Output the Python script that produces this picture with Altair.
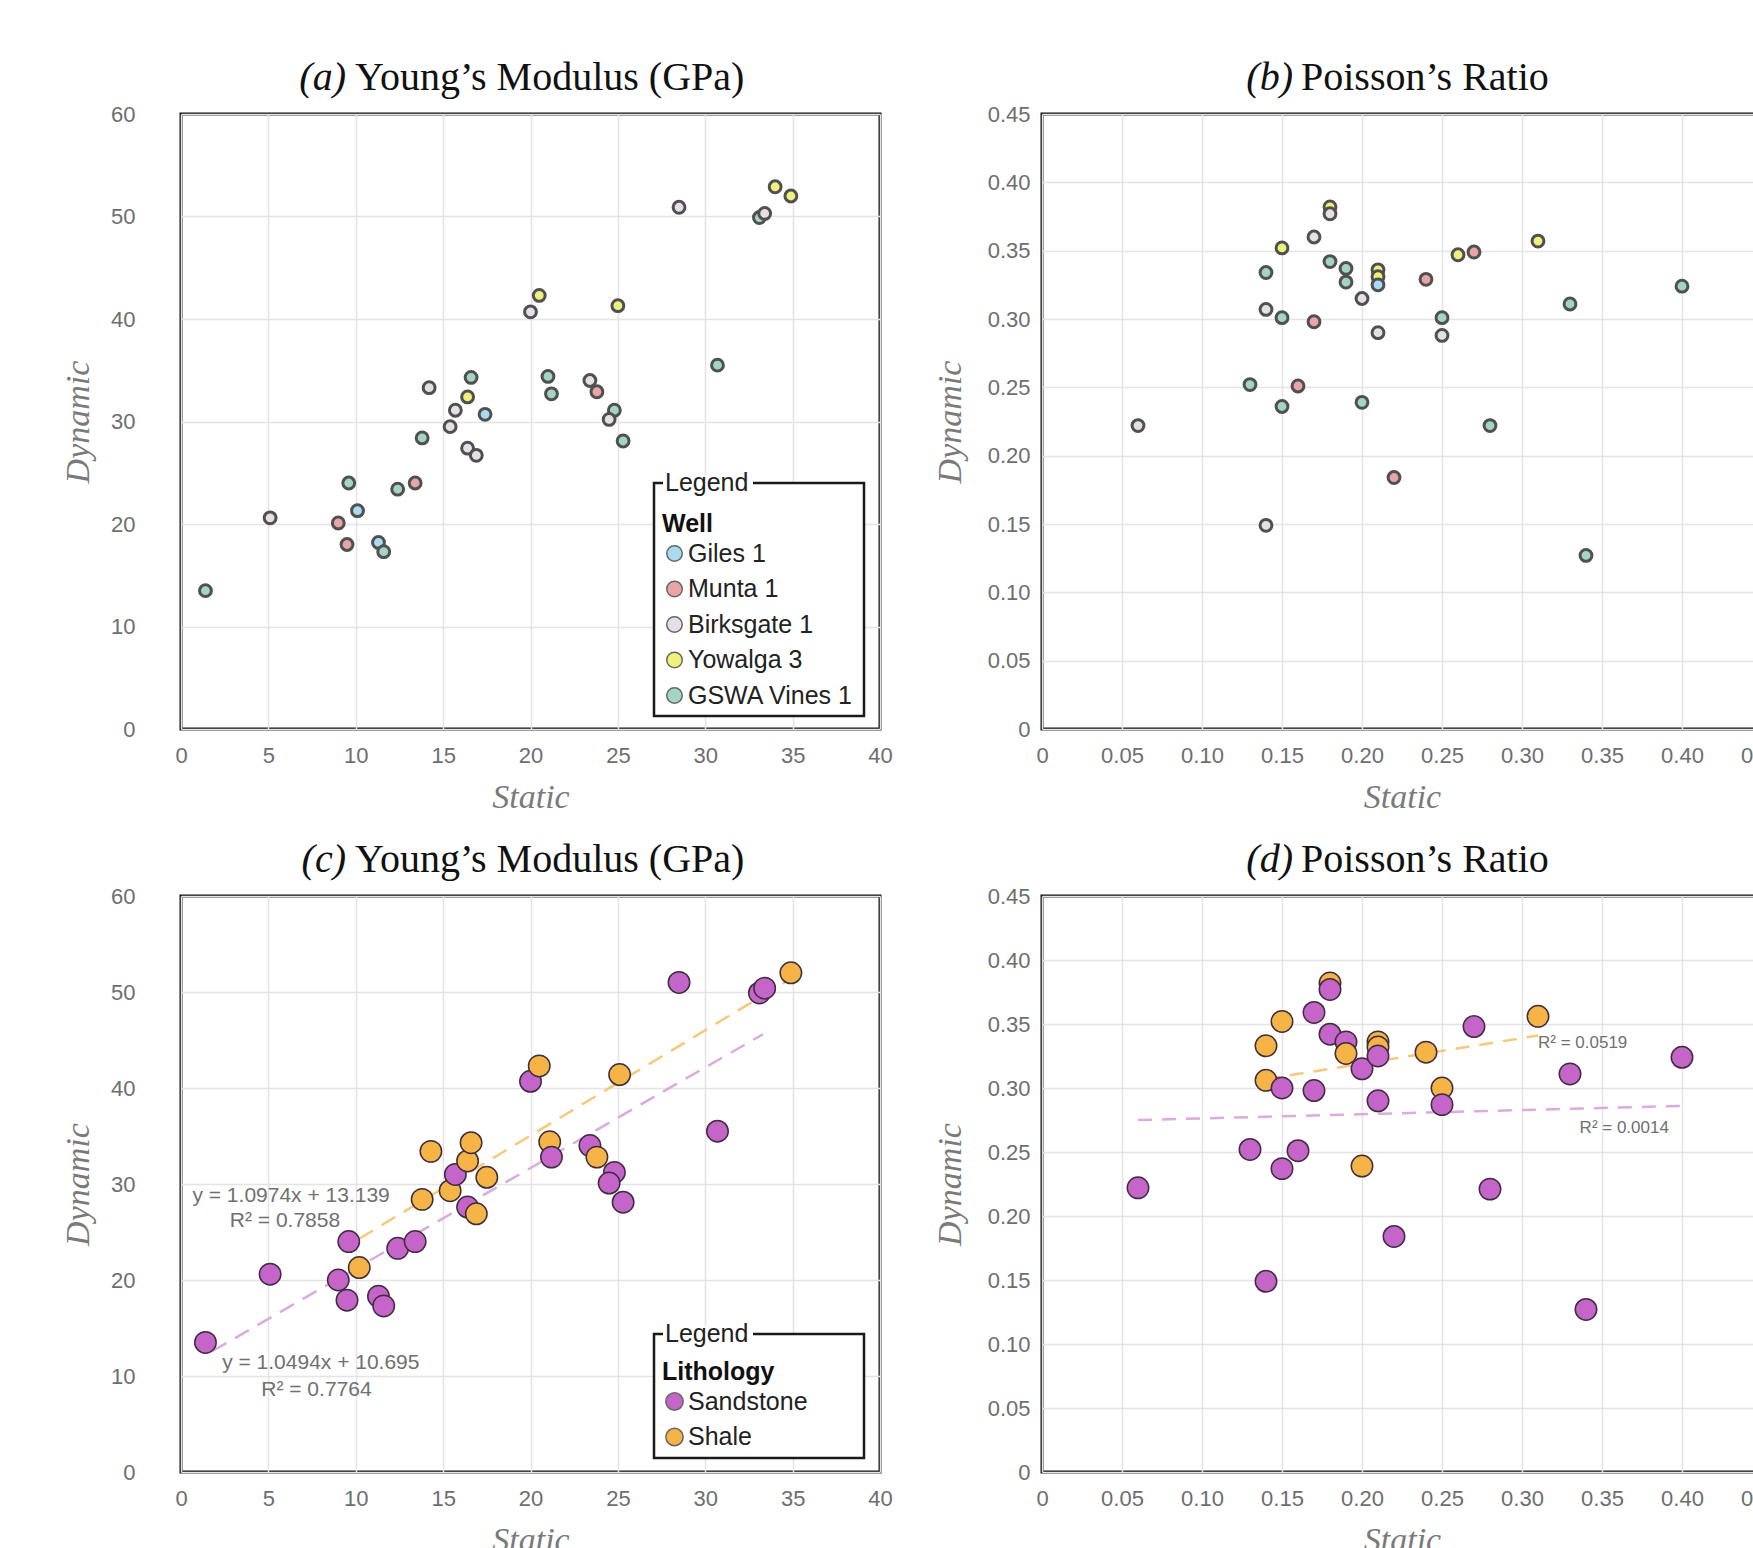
import altair as alt
import pandas as pd

# ---------------- categories / colours ----------------
well_names = ["Giles 1", "Munta 1", "Birksgate 1", "Yowalga 3", "GSWA Vines 1"]
well_colors = ["#a9dbf0", "#e9a5a5", "#e6dfe8", "#eef27c", "#a2d5c6"]
lith_names = ["Sandstone", "Shale"]
lith_colors = ["#c564c9", "#f7b446"]
lith_line_colors = ["#dcaade", "#f8c779"]

panel_tags = ["(a)", "(b)", "(c)", "(d)"]
panel_names = ["Young’s Modulus (GPa)", "Poisson’s Ratio",
               "Young’s Modulus (GPa)", "Poisson’s Ratio"]
x_title = "Static"
y_title = "Dynamic"

ym_ticks_x = [0, 5, 10, 15, 20, 25, 30, 35, 40]
ym_ticks_y = [0, 10, 20, 30, 40, 50, 60]
pr_ticks = [0, 0.05, 0.10, 0.15, 0.20, 0.25, 0.30, 0.35, 0.40, 0.45]

G, M, B, Y, V = well_names
S, H = lith_names

# ---------------- (a) Young's modulus by well ----------------
a_static = [1.4, 5.1, 9.0, 9.5, 9.6, 10.1, 11.3, 11.6, 12.4, 13.4, 13.8, 14.2,
            15.4, 15.7, 16.4, 16.6, 16.4, 16.9, 17.4, 20.0, 20.5, 21.0, 21.2,
            23.4, 23.8, 24.8, 24.5, 25.3, 25.0, 28.5, 30.7, 33.1, 33.4, 34.0, 34.9]
a_dynamic = [13.5, 20.6, 20.1, 18.0, 24.0, 21.3, 18.2, 17.3, 23.4, 24.0, 28.4, 33.3,
             29.5, 31.1, 32.4, 34.3, 27.4, 26.7, 30.7, 40.7, 42.3, 34.4, 32.7,
             34.0, 32.9, 31.1, 30.2, 28.1, 41.3, 50.9, 35.5, 49.9, 50.3, 52.9, 52.0]
a_well = [V, B, M, M, V, G, G, V, V, M, V, B,
          B, B, Y, V, B, B, G, B, Y, V, V,
          B, M, V, B, V, Y, B, V, V, B, Y, Y]

# ---------------- (b) Poisson's ratio by well ----------------
b_static = [0.06, 0.13, 0.14, 0.14, 0.14, 0.15, 0.15, 0.15, 0.16, 0.17, 0.17,
            0.18, 0.18, 0.18, 0.19, 0.19, 0.20, 0.20, 0.21, 0.21, 0.21, 0.21,
            0.22, 0.24, 0.25, 0.25, 0.26, 0.27, 0.28, 0.31, 0.33, 0.34, 0.40]
b_dynamic = [0.222, 0.252, 0.334, 0.307, 0.149, 0.352, 0.301, 0.236, 0.251, 0.360, 0.298,
             0.382, 0.377, 0.342, 0.337, 0.327, 0.315, 0.239, 0.336, 0.331, 0.325, 0.290,
             0.184, 0.329, 0.301, 0.288, 0.347, 0.349, 0.222, 0.357, 0.311, 0.127, 0.324]
b_well = [B, V, V, B, B, Y, V, V, M, B, M,
          Y, B, V, V, V, B, V, Y, Y, G, B,
          M, M, V, B, Y, M, V, Y, V, V, V]

# ---------------- (c) Young's modulus by lithology ----------------
c_static = [1.4, 5.1, 9.0, 9.5, 9.6, 10.2, 11.3, 11.6, 12.4, 13.4, 13.8, 14.3,
            15.4, 15.7, 16.4, 16.6, 16.4, 16.9, 17.5, 20.0, 20.5, 21.1, 21.2,
            23.4, 23.8, 24.8, 24.5, 25.3, 25.1, 28.5, 30.7, 33.1, 33.4, 34.9]
c_dynamic = [13.5, 20.6, 20.0, 17.9, 24.0, 21.3, 18.3, 17.3, 23.3, 24.0, 28.4, 33.4,
             29.3, 31.0, 32.4, 34.3, 27.6, 26.9, 30.7, 40.7, 42.3, 34.4, 32.8,
             34.0, 32.8, 31.2, 30.1, 28.1, 41.4, 51.0, 35.5, 49.9, 50.4, 52.0]
c_lith = [S, S, S, S, S, H, S, S, S, S, H, H,
          H, S, H, H, S, H, H, S, H, H, S,
          S, H, S, S, S, H, S, S, S, S, H]

# ---------------- (d) Poisson's ratio by lithology ----------------
d_static = [0.06, 0.13, 0.14, 0.14, 0.14, 0.15, 0.15, 0.15, 0.16, 0.17, 0.17,
            0.18, 0.18, 0.18, 0.19, 0.19, 0.20, 0.20, 0.21, 0.21, 0.21, 0.21,
            0.22, 0.24, 0.25, 0.25, 0.27, 0.28, 0.31, 0.33, 0.34, 0.40]
d_dynamic = [0.222, 0.252, 0.333, 0.306, 0.149, 0.352, 0.300, 0.237, 0.251, 0.359, 0.298,
             0.382, 0.377, 0.342, 0.336, 0.327, 0.315, 0.239, 0.336, 0.332, 0.325, 0.290,
             0.184, 0.328, 0.300, 0.287, 0.348, 0.221, 0.356, 0.311, 0.127, 0.324]
d_lith = [S, S, H, H, S, H, S, S, S, S, S,
          H, S, S, S, H, S, H, H, H, S, S,
          S, H, H, S, S, S, H, S, S, S]

# ---------------- trend lines (end points) ----------------
c_trend_lith = [H, H, S, S]
c_trend_x = [10.2, 35.0, 1.8, 33.3]
c_trend_y = [24.3, 51.5, 12.6, 45.6]
d_trend_lith = [H, H, S, S]
d_trend_x = [0.14, 0.31, 0.06, 0.40]
d_trend_y = [0.307, 0.341, 0.275, 0.286]

# ---------------- annotations ----------------
c_note_text = ["y = 1.0974x + 13.139", "R² = 0.7858", "y = 1.0494x + 10.695", "R² = 0.7764"]
c_note_x = [6.3, 5.95, 8.0, 7.75]
c_note_y = [28.8, 26.1, 11.35, 8.5]
d_note_text = ["R² = 0.0519", "R² = 0.0014"]
d_note_x = [0.310, 0.336]
d_note_y = [0.3355, 0.269]

SANS = "Liberation Sans"
SERIF = "Liberation Serif"
LABEL_COLOR = "#6e6e6e"
PR_FMT = "datum.value == 0 ? '0' : format(datum.value, '.2f')"


def x_enc(domain, ticks, fmt=None):
    kw = dict(values=ticks, title=x_title, grid=True, gridColor="#e4e4e4", gridWidth=1.5,
              domain=False, ticks=False, tickSize=0, labelFont=SANS, labelFontSize=22,
              labelColor=LABEL_COLOR, labelPadding=16, labelFlush=False, labelOverlap=False,
              titleFont=SERIF, titleFontStyle="italic", titleFontWeight="normal",
              titleFontSize=34, titleColor="#7a7a7a", titlePadding=14)
    if fmt:
        kw["labelExpr"] = fmt
    return alt.X("x:Q", scale=alt.Scale(domain=domain, nice=False, zero=False),
                 axis=alt.Axis(**kw))


def y_enc(domain, ticks, label_pad, title_pad, fmt=None):
    kw = dict(values=ticks, title=y_title, grid=True, gridColor="#e4e4e4", gridWidth=1.5,
              domain=False, ticks=False, tickSize=0, labelFont=SANS, labelFontSize=22,
              labelColor=LABEL_COLOR, labelPadding=label_pad, labelFlush=False,
              labelOverlap=False, titleFont=SERIF, titleFontStyle="italic",
              titleFontWeight="normal", titleFontSize=34, titleColor="#7a7a7a",
              titlePadding=title_pad)
    if fmt:
        kw["labelExpr"] = fmt
    return alt.Y("y:Q", scale=alt.Scale(domain=domain, nice=False, zero=False),
                 axis=alt.Axis(**kw))


def title_layers(tag, name, tag_right, name_left):
    d = pd.DataFrame({"tag": [tag], "name": [name]})
    t1 = alt.Chart(d).mark_text(align="right", baseline="middle", font=SERIF, fontSize=40,
                                fontStyle="italic", color="#111111").encode(
        x=alt.value(tag_right), y=alt.value(-36), text="tag:N")
    t2 = alt.Chart(d).mark_text(align="left", baseline="middle", font=SERIF, fontSize=40,
                                color="#111111").encode(
        x=alt.value(name_left), y=alt.value(-36), text="name:N")
    return [t1, t2]


def legend_box(x0, x1, y0, y1):
    d = pd.DataFrame({"label": ["Legend"]})
    box = alt.Chart(d).mark_rect(fill="white", stroke="#1a1a1a", strokeWidth=2.5).encode(
        x=alt.value(x0), x2=alt.value(x1), y=alt.value(y0), y2=alt.value(y1))
    gap = alt.Chart(d).mark_rect(fill="white").encode(
        x=alt.value(x0 + 9), x2=alt.value(x0 + 99), y=alt.value(y0 - 8), y2=alt.value(y0 + 8))
    txt = alt.Chart(d).mark_text(align="left", baseline="middle", font=SANS, fontSize=25,
                                 color="#222222").encode(
        x=alt.value(x0 + 11), y=alt.value(y0), text="label:N")
    return [box, gap, txt]


def make_legend(title, x, y, size):
    return alt.Legend(title=title, orient="none", legendX=x, legendY=y, padding=0,
                      titleFont=SANS, titleFontSize=25, titleFontWeight="bold",
                      titleColor="#111111", titlePadding=4, labelFont=SANS,
                      labelFontSize=25, labelColor="#222222", labelOffset=1,
                      labelLimit=400, rowPadding=9.5, symbolType="circle", symbolSize=size,
                      symbolStrokeWidth=1.5, symbolStrokeColor="#666666",
                      symbolOpacity=1)


well_scale = alt.Scale(domain=well_names, range=well_colors)
lith_scale = alt.Scale(domain=lith_names, range=lith_colors)
line_scale = alt.Scale(domain=lith_names, range=lith_line_colors)

# ---------------- panel (a) ----------------
df_a = pd.DataFrame({"x": a_static, "y": a_dynamic, "Well": a_well})
xa = x_enc([0, 40], ym_ticks_x)
ya = y_enc([0, 60], ym_ticks_y, 46, 15)
pts_a = alt.Chart(df_a).mark_circle(size=140, stroke="#505050", strokeWidth=3,
                                     opacity=1).encode(
    x=xa, y=ya,
    fill=alt.Fill("Well:N", scale=well_scale,
                  legend=make_legend("Well", 481, 398, 240)))
panel_a = alt.layer(pts_a, *legend_box(473, 683, 369, 602),
                    *title_layers(panel_tags[0], panel_names[0], 165, 174)
                    ).properties(width=699, height=615)

# ---------------- panel (b) ----------------
df_b = pd.DataFrame({"x": b_static, "y": b_dynamic, "Well": b_well})
xb = x_enc([0, 0.45], pr_ticks, PR_FMT)
yb = y_enc([0, 0.45], pr_ticks, 12, 20, PR_FMT)
pts_b = alt.Chart(df_b).mark_circle(size=140, stroke="#505050", strokeWidth=3,
                                     opacity=1).encode(
    x=xb, y=yb, fill=alt.Fill("Well:N", scale=well_scale, legend=None))
panel_b = alt.layer(pts_b, *title_layers(panel_tags[1], panel_names[1], 251, 259)
                    ).properties(width=720, height=615)

# ---------------- panel (c) ----------------
df_c = pd.DataFrame({"x": c_static, "y": c_dynamic, "Lithology": c_lith})
df_ct = pd.DataFrame({"x": c_trend_x, "y": c_trend_y, "Lithology": c_trend_lith})
df_cn = pd.DataFrame({"x": c_note_x, "y": c_note_y, "label": c_note_text})
xc = x_enc([0, 40], ym_ticks_x)
yc = y_enc([0, 60], ym_ticks_y, 46, 15)
lines_c = alt.Chart(df_ct).mark_line(strokeDash=[16, 10], strokeWidth=2.5).encode(
    x=xc, y=yc, detail="Lithology:N",
    stroke=alt.Stroke("Lithology:N", scale=line_scale, legend=None))
pts_c = alt.Chart(df_c).mark_circle(size=460, stroke="#3d2f3d", strokeWidth=1.5,
                                     opacity=1).encode(
    x=xc, y=yc,
    fill=alt.Fill("Lithology:N", scale=lith_scale,
                  legend=make_legend("Lithology", 481, 464, 300)))
notes_c = alt.Chart(df_cn).mark_text(align="center", baseline="middle", font=SANS,
                                     fontSize=21, color="#707070").encode(
    x=xc, y=yc, text="label:N")
panel_c = alt.layer(lines_c, pts_c, notes_c, *legend_box(473, 683, 438, 562),
                    *title_layers(panel_tags[2], panel_names[2], 165, 174)
                    ).properties(width=699, height=576)

# ---------------- panel (d) ----------------
df_d = pd.DataFrame({"x": d_static, "y": d_dynamic, "Lithology": d_lith})
df_dt = pd.DataFrame({"x": d_trend_x, "y": d_trend_y, "Lithology": d_trend_lith})
df_dn = pd.DataFrame({"x": d_note_x, "y": d_note_y, "label": d_note_text})
xd = x_enc([0, 0.45], pr_ticks, PR_FMT)
yd = y_enc([0, 0.45], pr_ticks, 12, 20, PR_FMT)
lines_d = alt.Chart(df_dt).mark_line(strokeDash=[14, 10], strokeWidth=2.5).encode(
    x=xd, y=yd, detail="Lithology:N",
    stroke=alt.Stroke("Lithology:N", scale=line_scale, legend=None))
pts_d = alt.Chart(df_d).mark_circle(size=460, stroke="#3d2f3d", strokeWidth=1.5,
                                     opacity=1).encode(
    x=xd, y=yd, fill=alt.Fill("Lithology:N", scale=lith_scale, legend=None))
notes_d = alt.Chart(df_dn).mark_text(align="left", baseline="middle", font=SANS,
                                     fontSize=17, color="#707070").encode(
    x=xd, y=yd, text="label:N")
panel_d = alt.layer(lines_d, pts_d, notes_d,
                    *title_layers(panel_tags[3], panel_names[3], 251, 259)
                    ).properties(width=720, height=576)

chart = alt.concat(panel_a, panel_b, panel_c, panel_d, columns=2,
                   spacing={"row": 167, "column": 162}, bounds="flush").resolve_scale(
    fill="independent", x="independent", y="independent"
).resolve_legend(fill="independent").properties(
    autosize=alt.AutoSizeParams(type="none"),
    padding={"left": 181, "top": 114, "right": 1753 - 181, "bottom": 1548 - 114},
    background="white"
).configure_view(stroke="#111111", strokeWidth=3)

chart.save("out.html", embed_options={"renderer": "svg", "actions": False})
